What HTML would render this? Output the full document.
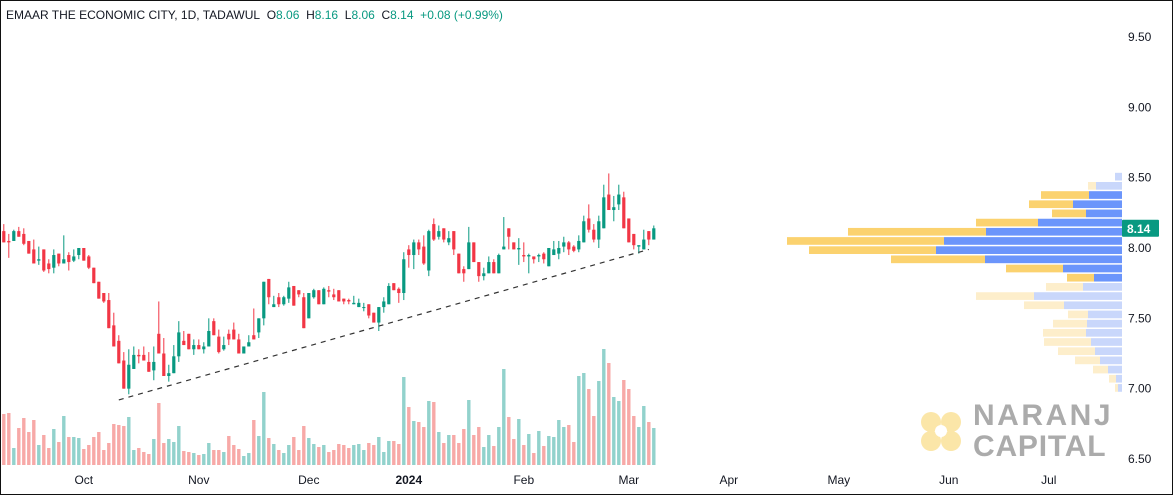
<!DOCTYPE html>
<html><head><meta charset="utf-8"><style>
html,body{margin:0;padding:0;background:#fff}
body{width:1173px;height:495px;overflow:hidden;font-family:"Liberation Sans",sans-serif}
#wrap{position:relative;width:1171px;height:493px;border:1px solid #111;background:#fff}
</style></head><body>
<div id="wrap">
<svg id="chart" width="1171" height="493" xmlns="http://www.w3.org/2000/svg">
  <text x="5" y="18" font-size="12" fill="#131722">EMAAR THE ECONOMIC CITY, 1D, TADAWUL&#160;&#160;O<tspan fill="#089981">8.06</tspan>&#160;&#160;H<tspan fill="#089981">8.16</tspan>&#160;&#160;L<tspan fill="#089981">8.06</tspan>&#160;&#160;C<tspan fill="#089981">8.14</tspan><tspan fill="#089981">&#160;&#160;+0.08 (+0.99%)</tspan></text>
  <g id="logo">
    <circle cx="930" cy="421" r="10" fill="#fbe6a8"/><circle cx="950" cy="421" r="10" fill="#fbe6a8"/>
    <circle cx="930" cy="440" r="10" fill="#fbe6a8"/><circle cx="950" cy="440" r="10" fill="#fbe6a8"/>
    <circle cx="940" cy="430" r="6" fill="#fff"/>
    <text x="972" y="424" font-size="30" font-weight="bold" fill="#ababab" letter-spacing="2.5">NARANJ</text>
    <text x="972" y="455" font-size="30" font-weight="bold" fill="#ababab" letter-spacing="0.8">CAPITAL</text>
  </g>
  <g id="vol"></g><g id="vp"></g><g id="candles"></g><g id="trend"></g><g id="axes"></g>
</svg>
</div>
<script>
const opens=[8.12,8.05,8.05,8.12,8.10,8.05,7.99,7.91,7.99,7.89,7.86,7.96,7.89,7.95,7.91,7.95,8.00,7.94,7.86,7.76,7.68,7.63,7.45,7.34,7.20,7.00,7.14,7.24,7.24,7.19,7.13,7.39,7.25,7.09,7.11,7.23,7.34,7.39,7.28,7.31,7.28,7.30,7.48,7.37,7.28,7.39,7.42,7.35,7.25,7.30,7.38,7.40,7.50,7.78,7.58,7.65,7.60,7.64,7.73,7.70,7.65,7.50,7.65,7.70,7.60,7.70,
7.67,7.70,7.64,7.63,7.60,7.58,7.58,7.60,7.54,7.47,7.58,7.60,7.75,7.71,7.68,7.99,7.95,8.04,8.01,7.84,8.17,8.08,8.14,8.04,8.12,7.96,7.85,7.85,8.04,7.90,7.80,7.82,7.90,7.82,7.99,8.14,8.04,7.99,7.95,7.94,7.94,7.94,7.96,7.87,7.95,7.96,8.01,8.04,8.01,7.99,8.04,8.21,8.13,8.06,8.14,8.38,8.27,8.31,8.36,8.21,8.10,8.01,7.99,8.12,8.06];
const highs=[8.17,8.10,8.13,8.15,8.14,8.05,8.06,8.01,7.99,7.92,7.99,7.96,8.09,7.97,7.99,8.00,8.00,7.95,7.86,7.76,7.68,7.68,7.54,7.38,7.26,7.28,7.30,7.28,7.30,7.26,7.30,7.62,7.36,7.17,7.31,7.48,7.41,7.39,7.35,7.35,7.33,7.50,7.50,7.42,7.37,7.42,7.47,7.39,7.30,7.38,7.57,7.50,7.76,7.78,7.66,7.68,7.66,7.76,7.73,7.70,7.68,7.68,7.71,7.70,7.72,7.73,
7.71,7.70,7.64,7.64,7.66,7.64,7.61,7.60,7.54,7.58,7.65,7.75,7.75,7.72,7.97,8.02,8.06,8.06,8.09,8.13,8.21,8.16,8.14,8.12,8.12,7.96,7.87,8.15,8.04,7.90,7.86,7.94,7.92,7.96,8.22,8.14,8.04,8.07,8.04,7.96,7.94,7.96,7.97,8.00,8.05,8.05,8.08,8.05,8.02,8.09,8.23,8.31,8.17,8.23,8.45,8.53,8.37,8.45,8.40,8.21,8.10,8.02,8.13,8.12,8.16];
const lows=[8.04,7.93,8.05,8.08,8.02,7.96,7.89,7.88,7.83,7.82,7.82,7.87,7.89,7.84,7.90,7.92,7.91,7.85,7.75,7.64,7.61,7.43,7.30,7.18,7.00,6.96,7.14,7.18,7.20,7.12,7.06,7.25,7.09,7.05,7.11,7.19,7.31,7.28,7.24,7.28,7.25,7.30,7.38,7.25,7.27,7.31,7.35,7.25,7.25,7.30,7.35,7.36,7.45,7.60,7.58,7.58,7.59,7.61,7.59,7.65,7.43,7.50,7.64,7.60,7.60,7.65,
7.63,7.62,7.60,7.60,7.60,7.58,7.55,7.50,7.47,7.41,7.54,7.60,7.70,7.61,7.63,7.86,7.85,7.95,7.88,7.80,8.05,8.06,8.04,8.02,7.95,7.82,7.76,7.85,7.90,7.76,7.77,7.82,7.82,7.82,7.99,7.99,7.99,7.88,7.90,7.82,7.89,7.90,7.89,7.87,7.95,7.92,7.97,7.95,7.97,7.97,8.04,8.11,8.04,8.00,8.14,8.27,8.19,8.27,8.14,8.04,7.99,7.96,7.99,8.02,8.06];
const closes=[8.04,8.04,8.12,8.08,8.03,7.96,7.89,7.92,7.84,7.85,7.95,7.89,7.92,7.90,7.94,8.00,7.91,7.86,7.75,7.64,7.62,7.43,7.30,7.18,7.00,7.17,7.24,7.23,7.20,7.12,7.19,7.25,7.09,7.11,7.23,7.40,7.31,7.28,7.31,7.28,7.30,7.41,7.38,7.26,7.31,7.35,7.35,7.25,7.30,7.33,7.35,7.50,7.76,7.65,7.60,7.60,7.65,7.72,7.59,7.67,7.43,7.68,7.70,7.60,7.71,7.69,
7.65,7.62,7.62,7.62,7.61,7.61,7.58,7.52,7.47,7.58,7.62,7.73,7.70,7.68,7.92,7.95,8.04,7.99,7.89,8.12,8.06,8.12,8.06,8.07,7.99,7.82,7.82,8.04,7.90,7.80,7.82,7.90,7.82,7.95,8.01,8.08,7.99,8.00,7.94,7.95,7.92,7.95,7.92,8.00,7.99,8.00,8.04,7.99,7.98,8.05,8.19,8.13,8.06,8.19,8.36,8.27,8.29,8.38,8.14,8.04,8.02,8.02,8.06,8.06,8.14];
const volumes=[153,156,51,111,141,99,135,60,90,51,108,69,147,84,84,81,48,60,84,99,45,66,123,120,117,144,45,51,39,33,78,186,66,78,69,117,42,39,36,30,33,66,45,45,39,87,60,48,27,36,135,87,219,81,63,45,36,60,84,45,117,81,63,54,60,39,
45,63,60,51,60,63,45,66,60,84,39,72,72,63,264,174,132,129,114,192,189,99,66,90,90,66,108,195,90,114,54,90,57,114,288,144,78,138,60,93,36,102,57,87,84,135,114,120,69,267,276,228,147,252,348,306,204,192,255,228,147,114,177,129,111];
const vpUp=[7,26,33,49,36,84,136,178,186,137,59,28,39,88,58,34,35,36,31,27,22,14,6,4];
const vpDown=[0,8,48,44,34,62,138,157,127,94,57,27,37,58,40,20,34,43,47,37,25,15,7,3];
const vpValueArea=[0,0,1,1,1,1,1,1,1,1,1,1,0,0,0,0,0,0,0,0,0,0,0,0];
const priceTicks=[9.5,9.0,8.5,8.0,7.5,7.0,6.5];
const monthLabels=["Oct","Nov","Dec","2024","Feb","Mar","Apr","May","Jun","Jul"];
const monthIdx=[16,39,61,81,104,125,145,167,189,209];
const trendStart=[23,6.92]; const trendEnd=[129,7.99];
const lastPrice=8.14;
const vpTop=8.538, vpBin=0.0653;

const NS="http://www.w3.org/2000/svg";
const y=p=>458-(p-6.5)*140.67;
const x=i=>2.8+5*i;
const volBase=464, volY=v=>v/3;
function mk(tag,attrs,parent){const e=document.createElementNS(NS,tag);for(const k in attrs)e.setAttribute(k,attrs[k]);parent.appendChild(e);return e;}
const G=id=>document.getElementById(id);

for(let i=0;i<closes.length;i++){
  const up=closes[i]>=opens[i];
  const v=mk('rect',{x:x(i)-1.7,y:volBase-volY(volumes[i]),width:3.4,height:volY(volumes[i]),fill:up?'#92d2cc':'#f7a9a7'},G('vol'));
  
  
  const c=up?'#089981':'#f23645';
  const w=mk('line',{x1:x(i),x2:x(i),y1:y(highs[i]),y2:y(lows[i]),stroke:c,'stroke-width':1},G('candles'));
  
  
  const t=y(Math.max(opens[i],closes[i])),b=y(Math.min(opens[i],closes[i]));
  const r=mk('rect',{x:x(i)-1.6,y:t,width:3.2,height:Math.max(1,b-t),fill:c},G('candles'));
  
  
}
const tl=mk('line',{x1:x(trendStart[0]),y1:y(trendStart[1]),x2:x(trendEnd[0]),y2:y(trendEnd[1]),stroke:'#333','stroke-width':1.2,'stroke-dasharray':'5 5'},G('trend'));



const vpRight=1121;
for(let i=0;i<vpUp.length;i++){
  const top=y(vpTop-i*vpBin)+0.5, h=y(vpTop-(i+1)*vpBin)-top-1;
  const va=vpValueArea[i];
  const bu=mk('rect',{x:vpRight-vpUp[i],y:top,width:vpUp[i],height:h,fill:va?'#6b95fb':'#c9d7fb'},G('vp'));
  
  
  const bd=mk('rect',{x:vpRight-vpUp[i]-vpDown[i],y:top,width:vpDown[i],height:h,fill:va?'#fbd26f':'#fdeecb'},G('vp'));
  
  
}
for(const p of priceTicks){
  const t=mk('text',{x:1127,y:y(p)+4,'font-size':12,fill:'#131722'},G('axes'));
  t.textContent=p.toFixed(2);
  
  
}
const lb=mk('rect',{x:1121,y:y(lastPrice)-8.5,width:37,height:17,fill:'#089981',rx:1},G('axes'));


const lt=mk('text',{x:1126,y:y(lastPrice)+4.5,'font-size':12,'font-weight':'bold',fill:'#fff'},G('axes'));
lt.textContent=lastPrice.toFixed(2);


for(let k=0;k<monthLabels.length;k++){
  const t=mk('text',{x:x(monthIdx[k]),y:483,'font-size':12,fill:'#131722','text-anchor':'middle','font-weight':monthLabels[k]==='2024'?'bold':'normal'},G('axes'));
  t.textContent=monthLabels[k];
  
  
}
</script>
</body></html>
